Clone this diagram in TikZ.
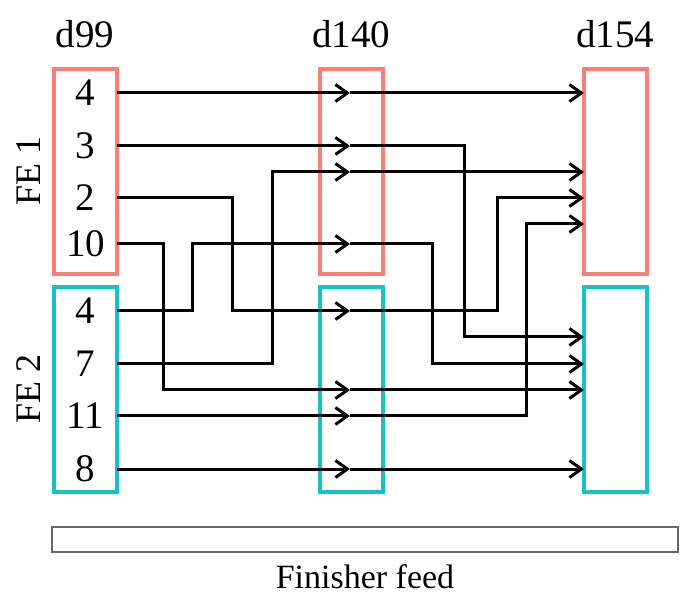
\documentclass[tikz,border=0pt]{standalone}
\usepackage{fontspec}
\setmainfont{Liberation Serif}
\usetikzlibrary{arrows.meta,positioning}

\definecolor{fered}{RGB}{250,128,118}
\definecolor{fecyan}{RGB}{20,194,200}

\tikzset{
	febox/.style={draw=#1,line width=4pt,minimum width=63pt,minimum height=205pt,inner sep=0pt,outer sep=0pt},
	lbl/.style={font=\fontsize{39}{46}\selectfont,inner sep=0pt},
	arr/.style={line width=3pt,-{Straight Barb[length=12pt,width=17pt]}}
}

\begin{document}
\begin{tikzpicture}[x=1pt,y=-1pt]
		\useasboundingbox (0,0) rectangle (699,601);
		% day boxes
		\node[febox=fered] (A1) at (85.5,171.5) {};
		\node[febox=fecyan,below=13pt of A1] (A2) {};
		\node[febox=fered,right=203pt of A1] (B1) {};
		\node[febox=fecyan,below=13pt of B1] (B2) {};
		\node[febox=fered,right=201pt of B1] (C1) {};
		\node[febox=fecyan,below=13pt of C1] (C2) {};
		\node[lbl] (d99) at (85,34) {d99};
		\node[lbl] (d140) at (351,34) {d140};
		\node[lbl] (d154) at (615,34) {d154};
		\node[lbl,rotate=90,font=\fontsize{36}{43}\selectfont] (fe1) at (29,171) {FE 1};
		\node[lbl,rotate=90,font=\fontsize{36}{43}\selectfont] (fe2) at (29,389) {FE 2};
		% pen numbers
		\node[lbl] (a4) at (85.5,93) {4};
		\node[lbl] (a3) at (85.5,146) {3};
		\node[lbl] (a2) at (85.5,198) {2};
		\node[lbl] (a10) at (85.5,244) {10};
		\node[lbl] (b4) at (85.5,311) {4};
		\node[lbl] (b7) at (85.5,364) {7};
		\node[lbl] (b11) at (85.5,416) {11};
		\node[lbl] (b8) at (85.5,469) {8};
		% d140 positions
		\coordinate (m1) at (350,93);
		\coordinate (m2) at (350,146);
		\coordinate (m3) at (350,172);
		\coordinate (m4) at (350,244);
		\coordinate (m5) at (350,311);
		\coordinate (m6) at (350,390);
		\coordinate (m7) at (350,416);
		\coordinate (m8) at (350,469);
		% d99 -> d140
		\draw[arr] (A1.east |- a4) -- (m1);
		\draw[arr] (A1.east |- a3) -- (m2);
		\draw[arr] (A1.east |- a2) -| (232,311) -- (m5);
		\draw[arr] (A1.east |- a10) -| (163,390) -- (m6);
		\draw[arr] (A2.east |- b4) -| (192,244) -- (m4);
		\draw[arr] (A2.east |- b7) -| (272,172) -- (m3);
		\draw[arr] (A2.east |- b11) -- (m7);
		\draw[arr] (A2.east |- b8) -- (m8);
		% d140 -> d154
		\draw[arr] (m1) -- (C1.west |- m1);
		\draw[arr] (m2) -| (464,337) -- (C2.west |- 0,337);
		\draw[arr] (m3) -- (C1.west |- m3);
		\draw[arr] (m4) -| (432,364) -- (C2.west |- 0,364);
		\draw[arr] (m5) -| (497,198) -- (C1.west |- 0,198);
		\draw[arr] (m6) -- (C2.west |- m6);
		\draw[arr] (m7) -| (526,224) -- (C1.west |- 0,224);
		\draw[arr] (m8) -- (C2.west |- m8);
		% finisher
		\node[draw=black!60,line width=2pt,minimum width=626pt,minimum height=25pt] (feed) at (365,539) {};
		\node[font=\fontsize{34}{41}\selectfont,inner sep=0pt] (feedlbl) at (365,577) {Finisher feed};
	\end{tikzpicture}
\end{document}
